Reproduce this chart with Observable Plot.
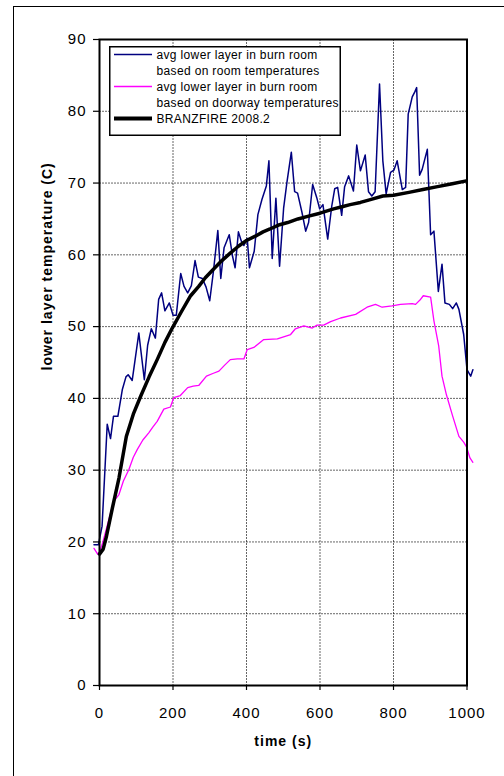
<!DOCTYPE html>
<html>
<head>
<meta charset="utf-8">
<script src="https://cdn.jsdelivr.net/npm/d3@7"></script>
<script src="https://cdn.jsdelivr.net/npm/@observablehq/plot@0.6"></script>
<style>
  html, body { margin: 0; padding: 0; background: #fff; overflow: hidden; }
  #wrap { position: relative; width: 504px; height: 776px; font-family: "Liberation Sans", Arial, sans-serif; }
  #outer { position: absolute; left: 13px; top: 6px; width: 600px; height: 900px; border: 1.5px solid #000; pointer-events: none; }
  #legend { position: absolute; left: 109px; top: 46px; overflow: visible; }
</style>
</head>
<body>
<div id="wrap"><div id="outer"></div></div>
<script>
// ---- data ----
const roomTime = [-15,-3,7,21,30,38,50,62,72,78,89,107,122,131,141,152,161,169,178,190,200,209,221,230,240,250,260,269,280,290,300,310,322,330,339,353,362,369,378,386,393,402,408,421,431,442,454,461,470,480,490,501,510,522,531,539,551,561,569,580,591,599,608,621,632,640,648,659,667,678,691,700,710,723,732,741,750,762,771,780,792,801,810,824,833,840,851,858,863,871,878,892,901,910,922,932,940,952,961,971,978,991,1000,1010,1016];
const roomTemp = [19.6,19.6,22.2,36.4,34.4,37.5,37.5,41.2,43.0,43.3,42.5,49.1,42.6,47.4,49.7,48.4,53.8,54.7,52.2,53.3,51.6,51.6,57.4,55.6,54.7,55.7,59.2,56.9,56.7,55.5,53.6,57.7,63.4,56.7,61.0,62.8,59.8,58.2,63.2,61.9,61.3,62.3,58.2,60.5,65.6,67.7,69.6,73.1,59.5,67.9,58.4,66.5,70.1,74.3,68.8,68.6,65.9,63.3,64.5,69.8,68.0,66.4,67.0,62.2,66.8,69.2,69.4,65.5,69.5,71.0,68.9,75.3,71.7,73.9,68.8,68.2,68.8,83.8,73.1,68.5,71.5,71.8,73.1,69.1,69.4,79.6,82.0,82.7,83.3,71.1,71.9,74.7,62.8,63.3,54.9,58.7,53.3,53.1,52.5,53.3,52.4,48.9,44.0,43.1,44.0];

const doorTime = [-15,-5,0,7,19,30,39,53,65,80,92,103,118,134,145,157,175,193,202,220,240,255,270,291,310,325,340,356,375,393,402,420,447,484,520,533,556,579,592,610,629,656,697,728,751,769,796,819,851,860,872,881,901,910,923,932,944,960,978,991,999,1008,1016];
const doorTemp = [19.1,18.3,18.6,19.6,21.9,24.0,25.7,26.6,28.5,30.1,31.8,32.9,34.2,35.2,36.0,36.8,38.5,38.8,40.1,40.4,41.5,41.7,41.8,43.1,43.5,43.8,44.6,45.4,45.5,45.5,46.8,47.1,48.2,48.3,48.9,49.7,50.1,49.8,50.2,50.2,50.7,51.2,51.7,52.7,53.1,52.7,52.9,53.1,53.2,53.1,53.7,54.3,54.1,50.8,47.3,43.1,40.5,37.7,34.7,33.9,33.2,31.7,31.1];

const branzTime = [0,10,19,35,53,73,92,112,135,157,178,198,222,248,270,288,310,333,355,378,400,424,445,464,490,512,540,569,600,637,660,682,710,737,771,800,842,880,920,960,998];
const branzTemp = [18.3,19.0,20.8,24.7,28.9,34.7,37.8,40.3,43.0,45.4,47.8,49.8,52.0,54.3,55.6,56.8,58.0,59.2,60.2,61.2,62.0,62.6,63.2,63.6,64.2,64.5,65.0,65.4,65.8,66.4,66.7,67.0,67.3,67.7,68.2,68.3,68.7,69.1,69.5,69.9,70.3];

const xTicks = [0, 200, 400, 600, 800, 1000];
const yTicks = [0, 10, 20, 30, 40, 50, 60, 70, 80, 90];
const seriesColors = ["#000080", "#ff00ff", "#000000"];
const legendLabels = [
  ["avg lower layer in burn room", "based on room temperatures"],
  ["avg lower layer in burn room", "based on doorway temperatures"],
  ["BRANZFIRE 2008.2"]
];
const xTitle = "time (s)";
const yTitle = "lower layer temperature (C)";

// ---- build tables ----
const room = roomTime.map((t, i) => ({t, v: roomTemp[i]}));
const door = doorTime.map((t, i) => ({t, v: doorTemp[i]}));
const branz = branzTime.map((t, i) => ({t, v: branzTemp[i]}));

const chart = Plot.plot({
  width: 504,
  height: 776,
  marginLeft: 99,
  marginRight: 37.5,
  marginTop: 39,
  marginBottom: 91,
  style: {fontFamily: "'Liberation Sans', Arial, sans-serif", fontSize: "15px", background: "transparent", color: "#000", letterSpacing: "1px", overflow: "visible"},
  x: {domain: [0, 1000]},
  y: {domain: [0, 90]},
  marks: [
    Plot.gridX(xTicks.slice(1, -1), {stroke: "#000", strokeOpacity: 0.6, strokeDasharray: "2,1", strokeWidth: 1}),
    Plot.gridY(yTicks.slice(1, -1), {stroke: "#000", strokeOpacity: 0.6, strokeDasharray: "2,1", strokeWidth: 1}),
    Plot.line(door, {x: "t", y: "v", stroke: seriesColors[1], strokeWidth: 1.3}),
    Plot.line(room, {x: "t", y: "v", stroke: seriesColors[0], strokeWidth: 1.5}),
    Plot.line(branz, {x: "t", y: "v", stroke: seriesColors[2], strokeWidth: 3.5}),
    Plot.frame({stroke: "#000", strokeWidth: 2}),
    Plot.axisY(yTicks, {tickSize: 6, tickPadding: 7, label: null, stroke: "#000", strokeWidth: 1.2, tickFormat: d => String(d)}),
    Plot.axisX(xTicks, {tickSize: 5, tickPadding: 17, label: null, stroke: "#000", strokeWidth: 1.2, tickFormat: d => String(d)}),
    Plot.text([xTitle], {frameAnchor: "bottom", dy: 60, fontWeight: "bold", fontSize: 14, text: d => d}),
    Plot.text([yTitle], {frameAnchor: "left", dx: -52, dy: 8, rotate: -90, fontWeight: "bold", fontSize: 14, text: d => d})
  ]
});
const wrap = document.getElementById("wrap");
chart.style.position = "absolute";
chart.style.left = "0px";
chart.style.top = "0px";
wrap.insertBefore(chart, wrap.firstChild);

// ---- legend (HTML overlay inside plot area) ----
const ns = "http://www.w3.org/2000/svg";
const lg = document.createElementNS(ns, "svg");
lg.setAttribute("id", "legend");
lg.setAttribute("width", 232);
lg.setAttribute("height", 90);
const rect = document.createElementNS(ns, "rect");
rect.setAttribute("x", 0.75); rect.setAttribute("y", 0.75);
rect.setAttribute("width", 230.5); rect.setAttribute("height", 88.5);
rect.setAttribute("fill", "#fff"); rect.setAttribute("stroke", "#000"); rect.setAttribute("stroke-width", 1.5);
lg.appendChild(rect);
let row = 0;
const rowH = 16, row0 = 8.5;
legendLabels.forEach((lines, i) => {
  const y = row0 + row * rowH;
  const ln = document.createElementNS(ns, "line");
  ln.setAttribute("x1", 5); ln.setAttribute("x2", 43);
  ln.setAttribute("y1", y); ln.setAttribute("y2", y);
  ln.setAttribute("stroke", seriesColors[i]);
  ln.setAttribute("stroke-width", i === 2 ? 4 : 1.5);
  lg.appendChild(ln);
  lines.forEach((s, j) => {
    const tx = document.createElementNS(ns, "text");
    tx.setAttribute("x", 47.5);
    tx.setAttribute("y", row0 + (row + j) * rowH);
    tx.setAttribute("dy", "0.35em");
    tx.setAttribute("font-family", "'Liberation Sans', Arial, sans-serif");
    tx.setAttribute("font-size", "12px");
    tx.setAttribute("letter-spacing", "0.35px");
    tx.setAttribute("fill", "#000");
    tx.textContent = s;
    lg.appendChild(tx);
  });
  row += lines.length;
});
wrap.appendChild(lg);
</script>
</body>
</html>
